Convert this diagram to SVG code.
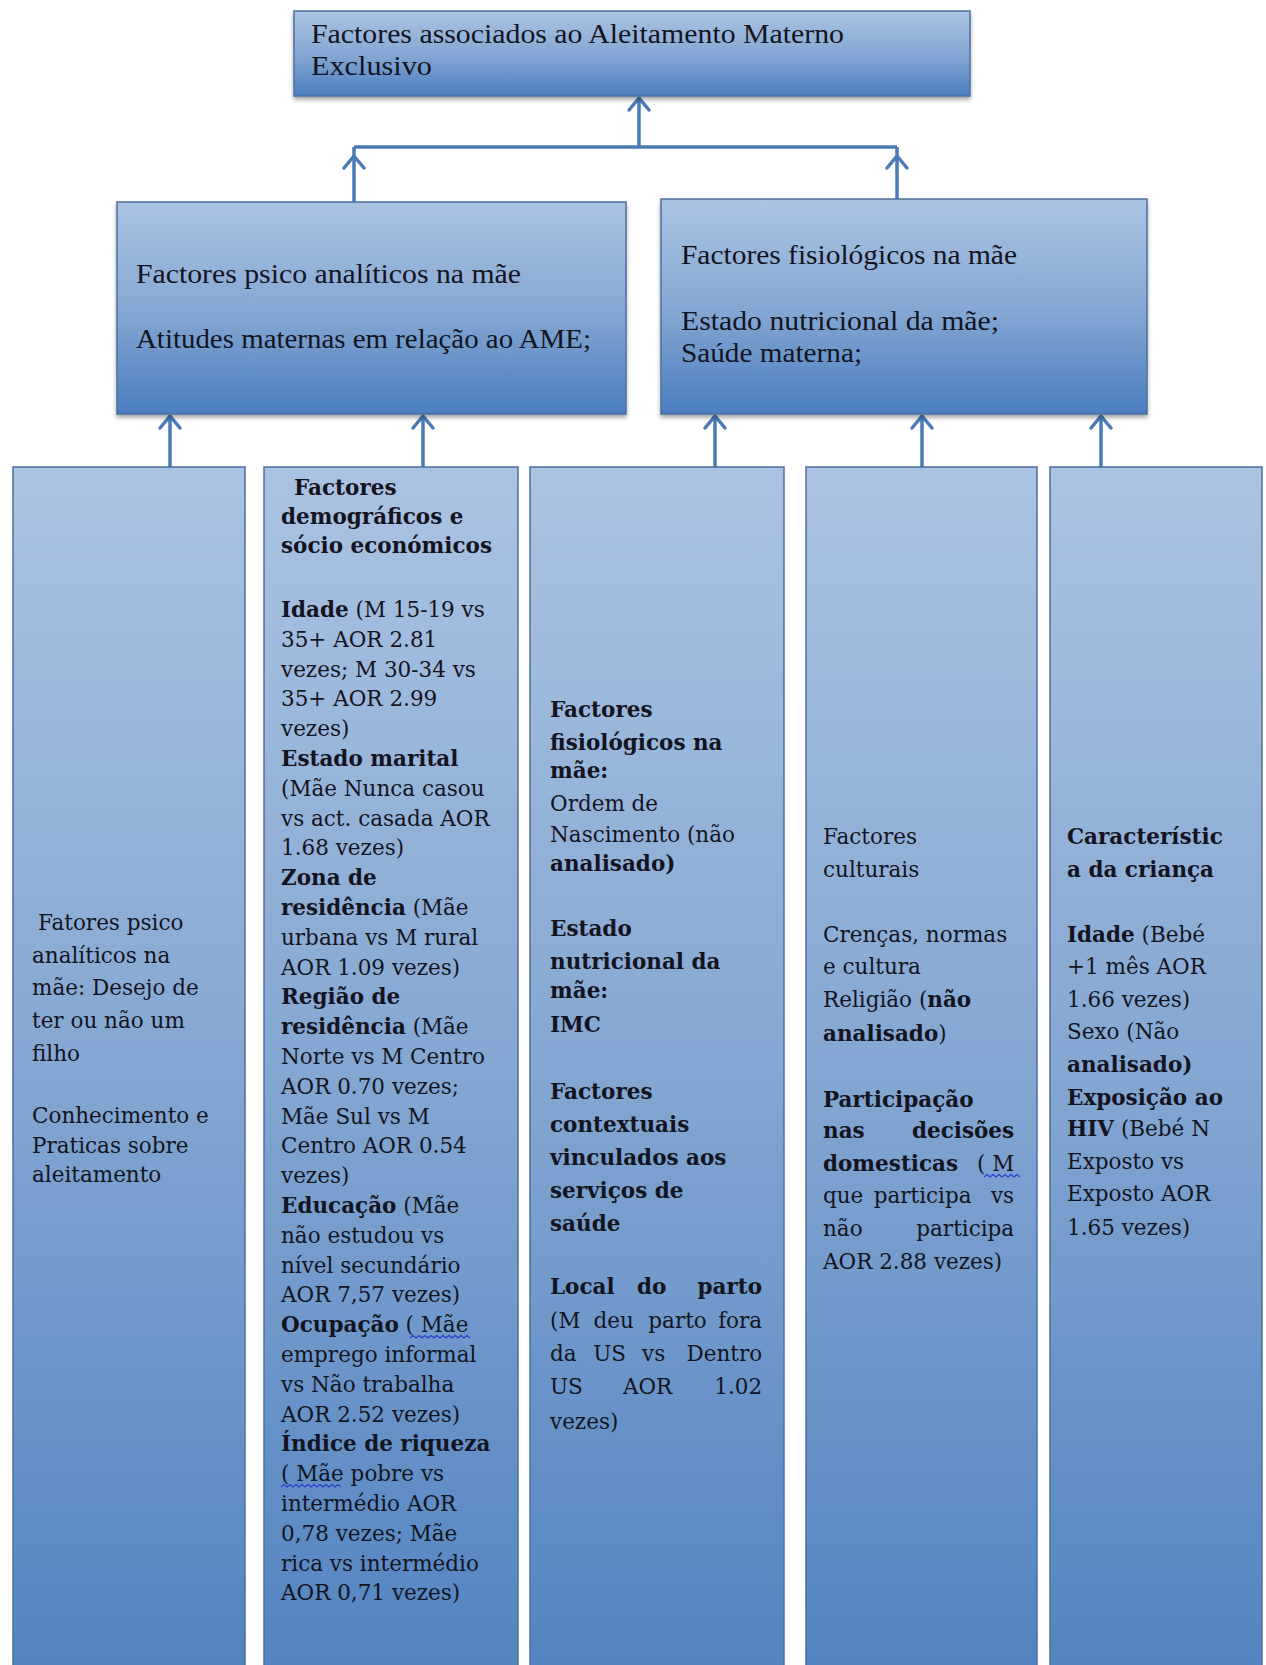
<svg xmlns="http://www.w3.org/2000/svg" width="1266" height="1665" viewBox="0 0 1266 1665">
<style>
.box{stroke:#4d6f9e;stroke-width:1.5}
.t{font-family:"Liberation Serif",serif;font-size:28px;fill:#14141f}
.s{font-family:"DejaVu Serif",serif;font-size:21.5px;fill:#14141f}
.b{font-weight:bold}
.con{stroke:#4a7bb7;stroke-width:3.5;fill:none}
.sq{stroke:#2a3fd0;stroke-width:1.2;fill:none}
</style>
<defs>
<linearGradient id="g" x1="0" y1="0" x2="0" y2="1">
<stop offset="0" stop-color="#abc3e2"/>
<stop offset="0.5" stop-color="#87a8d4"/>
<stop offset="1" stop-color="#4a7ebf"/>
</linearGradient>
<linearGradient id="gb" x1="0" y1="0" x2="0" y2="1">
<stop offset="0" stop-color="#abc3e2"/>
<stop offset="0.5" stop-color="#84a6d2"/>
<stop offset="1" stop-color="#5183c0"/>
</linearGradient>
<filter id="sh" x="-5%" y="-5%" width="110%" height="115%">
<feDropShadow dx="0" dy="3" stdDeviation="2" flood-color="#000" flood-opacity="0.35"/>
</filter>
<marker id="arr" markerUnits="userSpaceOnUse" viewBox="-16 -12 30 24" markerWidth="30" markerHeight="24" refX="0" refY="0" orient="auto" overflow="visible">
<path d="M-12,-10 L0,0 L-12,10" fill="none" stroke="#4a7bb7" stroke-width="3.5" stroke-linejoin="round" stroke-linecap="round"/>
</marker>
<marker id="arr2" markerUnits="userSpaceOnUse" viewBox="-16 -12 30 24" markerWidth="30" markerHeight="24" refX="9" refY="0" orient="auto" overflow="visible">
<path d="M-12,-10 L0,0 L-12,10" fill="none" stroke="#4a7bb7" stroke-width="3.5" stroke-linejoin="round" stroke-linecap="round"/>
</marker>
</defs>
<rect width="1266" height="1665" fill="#ffffff"/>

<g id="connectors">
<path class="con" d="M639,147 V98" marker-end="url(#arr)"/>
<path class="con" d="M354,147 H897"/>
<path class="con" d="M354,202 V147" marker-end="url(#arr2)"/>
<path class="con" d="M897,199 V147" marker-end="url(#arr2)"/>
<path class="con" d="M170,467 V416" marker-end="url(#arr)"/>
<path class="con" d="M423,467 V416" marker-end="url(#arr)"/>
<path class="con" d="M715,467 V416" marker-end="url(#arr)"/>
<path class="con" d="M922,467 V416" marker-end="url(#arr)"/>
<path class="con" d="M1101,467 V416" marker-end="url(#arr)"/>
</g>

<g id="top">
<rect class="box" x="294" y="11" width="676" height="85" fill="url(#g)" filter="url(#sh)"/>
<text class="t" x="311" y="43" textLength="533" lengthAdjust="spacingAndGlyphs">Factores associados ao Aleitamento Materno</text>
<text class="t" x="311" y="75" textLength="121" lengthAdjust="spacingAndGlyphs">Exclusivo</text>
</g>

<g id="mid-left">
<rect class="box" x="117" y="202" width="509" height="212" fill="url(#g)" filter="url(#sh)"/>
<text class="t" x="136" y="283" textLength="385" lengthAdjust="spacingAndGlyphs">Factores psico analíticos na mãe</text>
<text class="t" x="136" y="348" textLength="455" lengthAdjust="spacingAndGlyphs">Atitudes maternas em relação ao AME;</text>
</g>

<g id="mid-right">
<rect class="box" x="661" y="199" width="486" height="215" fill="url(#g)" filter="url(#sh)"/>
<text class="t" x="681" y="264" textLength="336" lengthAdjust="spacingAndGlyphs">Factores fisiológicos na mãe</text>
<text class="t" x="681" y="330" textLength="318" lengthAdjust="spacingAndGlyphs">Estado nutricional da mãe;</text>
<text class="t" x="681" y="362" textLength="181" lengthAdjust="spacingAndGlyphs">Saúde materna;</text>
</g>

<g id="b1">
<rect class="box" x="13" y="467" width="232" height="1215" fill="url(#gb)"/>
<text class="s">
<tspan x="38" y="930">Fatores psico</tspan>
<tspan x="32" y="963">analíticos na</tspan>
<tspan x="32" y="995">mãe: Desejo de</tspan>
<tspan x="32" y="1028">ter ou não um</tspan>
<tspan x="32" y="1061">filho</tspan>
<tspan x="32" y="1123">Conhecimento e</tspan>
<tspan x="32" y="1153">Praticas sobre</tspan>
<tspan x="32" y="1182">aleitamento</tspan>
</text>
</g>

<g id="b2">
<rect class="box" x="264" y="467" width="254" height="1215" fill="url(#gb)"/>
<text class="s">
<tspan class="b" x="294" y="495">Factores</tspan>
<tspan class="b" x="281" y="524">demográficos e</tspan>
<tspan class="b" x="281" y="553">sócio económicos</tspan>
<tspan x="281" y="617"><tspan class="b">Idade</tspan> (M 15-19 vs</tspan>
<tspan x="281" y="646.8">35+ AOR 2.81</tspan>
<tspan x="281" y="676.6">vezes; M 30-34 vs</tspan>
<tspan x="281" y="706.4">35+ AOR 2.99</tspan>
<tspan x="281" y="736.2">vezes)</tspan>
<tspan class="b" x="281" y="766">Estado marital</tspan>
<tspan x="281" y="795.8">(Mãe Nunca casou</tspan>
<tspan x="281" y="825.6">vs act. casada AOR</tspan>
<tspan x="281" y="855.4">1.68 vezes)</tspan>
<tspan class="b" x="281" y="885.2">Zona de</tspan>
<tspan x="281" y="915"><tspan class="b">residência</tspan> (Mãe</tspan>
<tspan x="281" y="944.8">urbana vs M rural</tspan>
<tspan x="281" y="974.6">AOR 1.09 vezes)</tspan>
<tspan class="b" x="281" y="1004.4">Região de</tspan>
<tspan x="281" y="1034.2"><tspan class="b">residência</tspan> (Mãe</tspan>
<tspan x="281" y="1064">Norte vs M Centro</tspan>
<tspan x="281" y="1093.8">AOR 0.70 vezes;</tspan>
<tspan x="281" y="1123.6">Mãe Sul vs M</tspan>
<tspan x="281" y="1153.4">Centro AOR 0.54</tspan>
<tspan x="281" y="1183.2">vezes)</tspan>
<tspan x="281" y="1213"><tspan class="b">Educação</tspan> (Mãe</tspan>
<tspan x="281" y="1242.8">não estudou vs</tspan>
<tspan x="281" y="1272.6">nível secundário</tspan>
<tspan x="281" y="1302.4">AOR 7,57 vezes)</tspan>
<tspan x="281" y="1332.2"><tspan class="b">Ocupação</tspan> ( Mãe</tspan>
<tspan x="281" y="1362">emprego informal</tspan>
<tspan x="281" y="1391.8">vs Não trabalha</tspan>
<tspan x="281" y="1421.6">AOR 2.52 vezes)</tspan>
<tspan class="b" x="281" y="1451.4">Índice de riqueza</tspan>
<tspan x="281" y="1481.2">( Mãe pobre vs</tspan>
<tspan x="281" y="1511">intermédio AOR</tspan>
<tspan x="281" y="1540.8">0,78 vezes; Mãe</tspan>
<tspan x="281" y="1570.6">rica vs intermédio</tspan>
<tspan x="281" y="1600.4">AOR 0,71 vezes)</tspan>
</text>
<path class="sq" d="M410,1338 l3,-2.5 l3,2.5 l3,-2.5 l3,2.5 l3,-2.5 l3,2.5 l3,-2.5 l3,2.5 l3,-2.5 l3,2.5 l3,-2.5 l3,2.5 l3,-2.5 l3,2.5 l3,-2.5 l3,2.5 l3,-2.5 l3,2.5 l3,-2.5 l3,2.5"/>
<path class="sq" d="M281,1487 l3,-2.5 l3,2.5 l3,-2.5 l3,2.5 l3,-2.5 l3,2.5 l3,-2.5 l3,2.5 l3,-2.5 l3,2.5 l3,-2.5 l3,2.5 l3,-2.5 l3,2.5 l3,-2.5 l3,2.5 l3,-2.5 l3,2.5 l3,-2.5 l3,2.5"/>
</g>

<g id="b3">
<rect class="box" x="530" y="467" width="254" height="1215" fill="url(#gb)"/>
<text class="s">
<tspan class="b" x="550" y="716.5">Factores</tspan>
<tspan class="b" x="550" y="749.5">fisiológicos na</tspan>
<tspan class="b" x="550" y="778">mãe:</tspan>
<tspan x="550" y="811">Ordem de</tspan>
<tspan x="550" y="842">Nascimento (não</tspan>
<tspan class="b" x="550" y="870.5">analisado)</tspan>
<tspan class="b" x="550" y="936.4">Estado</tspan>
<tspan class="b" x="550" y="969.3">nutricional da</tspan>
<tspan class="b" x="550" y="998">mãe:</tspan>
<tspan class="b" x="550" y="1032">IMC</tspan>
<tspan class="b" x="550" y="1099">Factores</tspan>
<tspan class="b" x="550" y="1132">contextuais</tspan>
<tspan class="b" x="550" y="1164.7">vinculados aos</tspan>
<tspan class="b" x="550" y="1197.7">serviços de</tspan>
<tspan class="b" x="550" y="1230.6">saúde</tspan>
<tspan class="b" x="550" y="1294.3">Local</tspan>
<tspan class="b" x="655" y="1294.3" text-anchor="middle">do</tspan>
<tspan class="b" x="769" y="1294.3" text-anchor="end">parto</tspan>
<tspan x="550" y="1328.3">(M</tspan>
<tspan x="617" y="1328.3" text-anchor="middle">deu</tspan>
<tspan x="681" y="1328.3" text-anchor="middle">parto</tspan>
<tspan x="769" y="1328.3" text-anchor="end">fora</tspan>
<tspan x="550" y="1361.2">da</tspan>
<tspan x="613" y="1361.2" text-anchor="middle">US</tspan>
<tspan x="657" y="1361.2" text-anchor="middle">vs</tspan>
<tspan x="769" y="1361.2" text-anchor="end">Dentro</tspan>
<tspan x="550" y="1394.2">US</tspan>
<tspan x="651" y="1394.2" text-anchor="middle">AOR</tspan>
<tspan x="769" y="1394.2" text-anchor="end">1.02</tspan>
<tspan x="550" y="1429.2">vezes)</tspan>
</text>
</g>

<g id="b4">
<rect class="box" x="806" y="467" width="231" height="1215" fill="url(#gb)"/>
<text class="s">
<tspan x="823" y="844">Factores</tspan>
<tspan x="823" y="877">culturais</tspan>
<tspan x="823" y="941.7">Crenças, normas</tspan>
<tspan x="823" y="973.6">e cultura</tspan>
<tspan x="823" y="1006.5">Religião (<tspan class="b">não</tspan></tspan>
<tspan x="823" y="1040.5"><tspan class="b">analisado</tspan>)</tspan>
<tspan class="b" x="823" y="1107.4">Participação</tspan>
<tspan class="b" x="823" y="1138.2">nas</tspan>
<tspan class="b" x="1021" y="1138.2" text-anchor="end">decisões</tspan>
<tspan class="b" x="823" y="1171">domesticas</tspan>
<tspan x="1021" y="1171" text-anchor="end">( M</tspan>
<tspan x="823" y="1203">que</tspan>
<tspan x="926" y="1203" text-anchor="middle">participa</tspan>
<tspan x="1021" y="1203" text-anchor="end">vs</tspan>
<tspan x="823" y="1235.9">não</tspan>
<tspan x="1021" y="1235.9" text-anchor="end">participa</tspan>
<tspan x="823" y="1268.8">AOR 2.88 vezes)</tspan>
</text>
<path class="sq" d="M984,1177 l3,-2.5 l3,2.5 l3,-2.5 l3,2.5 l3,-2.5 l3,2.5 l3,-2.5 l3,2.5 l3,-2.5 l3,2.5 l3,-2.5 l3,2.5"/>
</g>

<g id="b5">
<rect class="box" x="1050" y="467" width="212" height="1215" fill="url(#gb)"/>
<text class="s">
<tspan class="b" x="1067" y="844">Característic</tspan>
<tspan class="b" x="1067" y="877">a da criança</tspan>
<tspan x="1067" y="941.7"><tspan class="b">Idade</tspan> (Bebé</tspan>
<tspan x="1067" y="973.6">+1 mês AOR</tspan>
<tspan x="1067" y="1006.5">1.66 vezes)</tspan>
<tspan x="1067" y="1039.4">Sexo (Não</tspan>
<tspan class="b" x="1067" y="1072.3">analisado)</tspan>
<tspan class="b" x="1067" y="1105.3">Exposição ao</tspan>
<tspan x="1067" y="1136"><tspan class="b">HIV</tspan> (Bebé N</tspan>
<tspan x="1067" y="1169">Exposto vs</tspan>
<tspan x="1067" y="1200.9">Exposto AOR</tspan>
<tspan x="1067" y="1234.9">1.65 vezes)</tspan>
</text>
</g>
</svg>
